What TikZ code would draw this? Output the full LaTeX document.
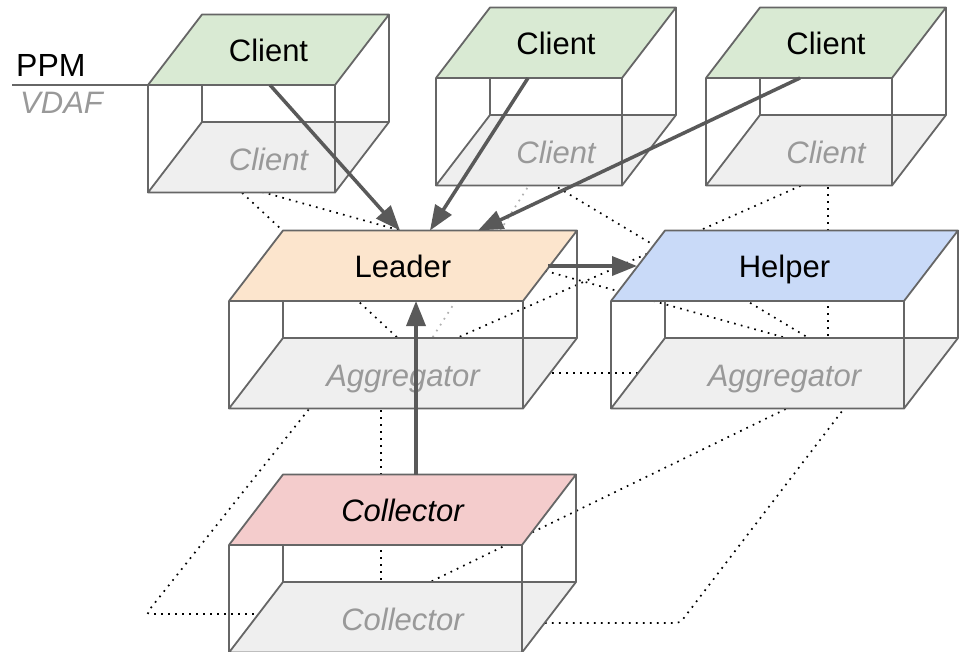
\documentclass[tikz,border=0pt]{standalone}
\usepackage{fontspec}
\setmainfont{Liberation Sans}
\usetikzlibrary{arrows.meta}

\definecolor{clientfill}{HTML}{D9EAD3}
\definecolor{leaderfill}{HTML}{FCE5CD}
\definecolor{helperfill}{HTML}{C9DAF8}
\definecolor{collectorfill}{HTML}{F4CCCC}
\definecolor{layerfill}{HTML}{EFEFEF}
\definecolor{edgegray}{HTML}{666666}
\definecolor{arrowgray}{HTML}{595959}
\definecolor{softtext}{HTML}{999999}
\definecolor{softdots}{HTML}{B0B0B0}

\tikzset{
  boxedge/.style={draw=edgegray, line width=1.8pt, line join=round},
  lowerface/.style={boxedge, fill=layerfill},
  toptext/.style={anchor=base, inner sep=0pt, font=\fontsize{31}{37}\selectfont},
  lowertext/.style={anchor=base, inner sep=0pt, text=softtext, font=\fontsize{31}{37}\selectfont\itshape},
  legendtext/.style={anchor=base west, inner sep=0pt, font=\fontsize{32}{38}\selectfont},
  vdafdots/.style={draw=black, line width=1.7pt, dash pattern=on 1.7pt off 5.3pt, rounded corners=4pt},
  flow/.style={draw=arrowgray, line width=3.5pt, -{Triangle[length=25pt,width=19pt]}}
}

% A two-layer box: top face (protocol role) over a grey bottom face (VDAF role).
% #1 name, #2/#3 front-left corner of the top face, #4 width, #5 top fill, #6 top text, #7 bottom text
\newcommand\layerbox[7]{%
  \coordinate (#1-fl) at ({#2},{#3});
  \coordinate (#1-fr) at ({#2+#4},{#3});
  \coordinate (#1-br) at ({#2+#4+54},{#3-70.5});
  \coordinate (#1-bl) at ({#2+54},{#3-70.5});
  \coordinate (#1-lfl) at ({#2},{#3+107.5});
  \coordinate (#1-lfr) at ({#2+#4},{#3+107.5});
  \coordinate (#1-lbr) at ({#2+#4+54},{#3+37});
  \coordinate (#1-lbl) at ({#2+54},{#3+37});
  \path[lowerface] (#1-lfl) -- (#1-lfr) -- (#1-lbr) -- (#1-lbl) -- cycle;
  \draw[boxedge] (#1-fl) -- (#1-lfl) (#1-fr) -- (#1-lfr) (#1-bl) -- (#1-lbl) (#1-br) -- (#1-lbr);
  \path[boxedge, fill=#5] (#1-fl) -- (#1-fr) -- (#1-br) -- (#1-bl) -- cycle;
  \node[toptext] (#1-name) at ({#2+#4/2+27},{#3-23.75}) {#6};
  \node[lowertext] (#1-role) at ({#2+#4/2+27},{#3+85}) {#7};
}

\begin{document}
\begin{tikzpicture}[x=1pt,y=-1pt]
\useasboundingbox (0,0) rectangle (961,651);
\fill[white] (0,0) rectangle (961,651);

% VDAF-layer links, drawn first so the faces hide them
\coordinate (a1) at (237,188);   \coordinate (a2) at (402,342);
\coordinate (b1) at (262,192);   \coordinate (b2) at (790,339);
\coordinate (cc1) at (531,182);  \coordinate (cc2) at (429,343);
\coordinate (d1) at (552,184);   \coordinate (d2) at (812,340);
\coordinate (e1) at (807,183);   \coordinate (e2) at (450,341);
\coordinate (f1) at (828,180);   \coordinate (f2) at (828,345);
\coordinate (g1) at (545,373);   \coordinate (g2) at (643,373);
\coordinate (h1) at (381,403);   \coordinate (h2) at (381,587);
\coordinate (i1) at (313,404);   \coordinate (i2) at (146,614);   \coordinate (i3) at (262,614);
\coordinate (j1) at (792,406);   \coordinate (j2) at (426,584);
\coordinate (k1) at (846,406);   \coordinate (k2) at (680,623);   \coordinate (k3) at (540,623);

\draw[vdafdots] (a1) -- (a2);
\draw[vdafdots] (b1) -- (b2);
\draw[vdafdots, draw=softdots] (cc1) -- (cc2);
\draw[vdafdots] (d1) -- (d2);
\draw[vdafdots] (e1) -- (e2);
\draw[vdafdots] (f1) -- (f2);
\draw[vdafdots] (g1) -- (g2);
\draw[vdafdots] (h1) -- (h2);
\draw[vdafdots] (i1) -- (i2) -- (i3);
\draw[vdafdots] (j1) -- (j2);
\draw[vdafdots] (k1) -- (k2) -- (k3);

% the boxes
\layerbox{client1}{148}{85}{187}{clientfill}{Client}{Client}
\layerbox{client2}{436}{78}{186}{clientfill}{Client}{Client}
\layerbox{client3}{706}{78}{186}{clientfill}{Client}{Client}
\layerbox{leader}{229}{301}{294}{leaderfill}{Leader}{Aggregator}
\layerbox{helper}{611}{301}{293}{helperfill}{Helper}{Aggregator}
\layerbox{collector}{229}{545}{293}{collectorfill}{\itshape Collector}{Collector}

% legend
\coordinate (legend-end) at (12,85);
\draw[boxedge] (legend-end) -- (client1-fl);
\node[legendtext] (ppm) at (16,76) {PPM};
\node[legendtext, text=softtext, font=\fontsize{31}{37}\selectfont\itshape] (vdaf) at (20,113) {VDAF};

% protocol flows
\coordinate (u1) at (270,85);   \coordinate (v1) at (400,230.5);
\coordinate (u2) at (528,78);   \coordinate (v2) at (430,230.5);
\coordinate (u3) at (800,78);   \coordinate (v3) at (478,230.5);
\coordinate (u4) at (548,266);  \coordinate (v4) at (637,266);
\coordinate (u5) at (416,474.5); \coordinate (v5) at (416,301);
\draw[flow] (u1) -- (v1);
\draw[flow] (u2) -- (v2);
\draw[flow] (u3) -- (v3);
\draw[flow] (u4) -- (v4);
\draw[flow] (u5) -- (v5);
\end{tikzpicture}
\end{document}
